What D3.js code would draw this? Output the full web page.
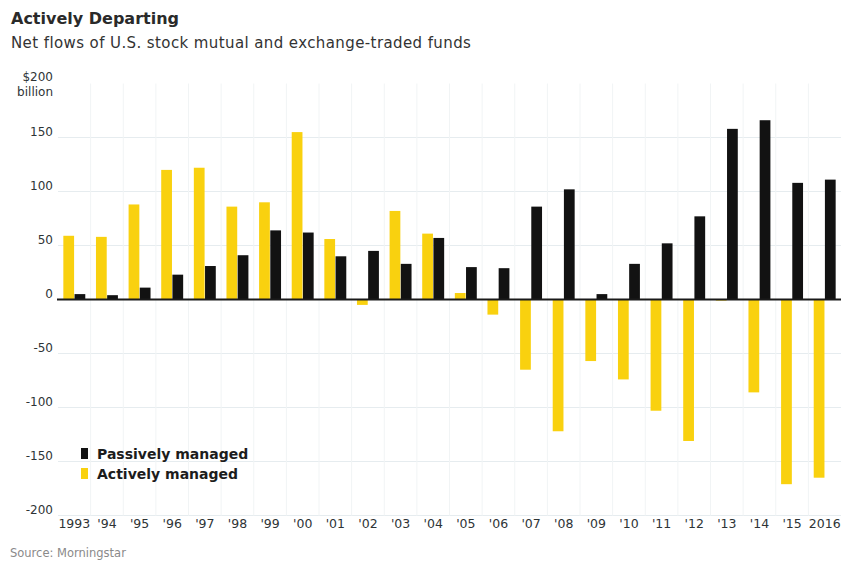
<!DOCTYPE html>
<html>
<head>
<meta charset="utf-8">
<script src="https://cdn.jsdelivr.net/npm/d3@7"></script>
<style>
  body { margin: 0; background: #fff; }
  svg { font-family: "DejaVu Sans", sans-serif; }
</style>
</head>
<body>
<div id="chart"></div>
<script>
// data ($ billion)
const years = d3.range(1993, 2017);
const yearLabels = ["1993", "'94", "'95", "'96", "'97", "'98", "'99", "'00", "'01", "'02", "'03", "'04",
  "'05", "'06", "'07", "'08", "'09", "'10", "'11", "'12", "'13", "'14", "'15", "2016"];
const active = [59, 58, 88, 120, 122, 86, 90, 155, 56, -5, 82, 61,
  6, -14, -65, -122, -57, -74, -103, -131, -1, -86, -171, -165];
const passive = [5, 4, 11, 23, 31, 41, 64, 62, 40, 45, 33, 57,
  30, 29, 86, 102, 5, 33, 52, 77, 158, 166, 108, 111];
const series = ["active", "passive"];
const yTicks = [-200, -150, -100, -50, 0, 50, 100, 150, 200];

const W = 843, H = 562;
const svg = d3.select("#chart").append("svg")
  .attr("width", W).attr("height", H);

const x = d3.scaleBand().domain(years).range([58, 841])
  .paddingInner(0.3).paddingOuter(0.15);
const xSub = d3.scaleBand().domain(series).range([0, x.bandwidth()]).padding(0.04);
const y = d3.scaleLinear().domain([-200, 200]).range([515.5, 83.5]);

const colors = { active: "#f9d10f", passive: "#121212" };

// gridlines
svg.append("g").selectAll("line").data(yTicks.filter(d => d !== 0 && d !== 200))
  .enter().append("line")
  .attr("x1", 58).attr("x2", 841)
  .attr("y1", d => y(d)).attr("y2", d => y(d))
  .style("stroke", "#e6ecef").style("stroke-width", 1);

svg.append("g").selectAll("line").data(years.slice(1))
  .enter().append("line")
  .attr("x1", d => x(d) - x.step() * x.paddingInner() / 2)
  .attr("x2", d => x(d) - x.step() * x.paddingInner() / 2)
  .attr("y1", y(200)).attr("y2", y(-200))
  .style("stroke", "#f1f4f5").style("stroke-width", 1);

// bars
const rows = years.map((yr, i) => ({ year: yr, active: active[i], passive: passive[i] }));
const groups = svg.append("g").selectAll("g").data(rows).enter().append("g")
  .attr("transform", d => `translate(${x(d.year)},0)`);

groups.selectAll("rect")
  .data(d => series.map(k => ({ key: k, value: d[k] })))
  .enter().append("rect")
  .attr("x", d => xSub(d.key))
  .attr("width", xSub.bandwidth())
  .attr("y", d => y(Math.max(0, d.value)))
  .attr("height", d => Math.abs(y(d.value) - y(0)))
  .style("fill", d => colors[d.key]);

// zero line
svg.append("line")
  .attr("x1", 57).attr("x2", 841)
  .attr("y1", y(0)).attr("y2", y(0))
  .style("stroke", "#1a1a1a").style("stroke-width", 2);

// y axis (plain hyphen for negatives, as in the original)
const yAxis = svg.append("g")
  .attr("transform", "translate(53,0)")
  .call(d3.axisLeft(y).tickValues(yTicks.filter(d => d !== 200))
    .tickFormat(d => String(d)).tickSize(0).tickPadding(0));
yAxis.select(".domain").remove();
yAxis.selectAll("text")
  .attr("dy", "-0.2em")
  .style("font-size", "12px").style("fill", "#2e3436")
  .style("font-family", "'DejaVu Sans', sans-serif");

svg.append("text").attr("x", 53).attr("y", 81).attr("text-anchor", "end")
  .style("font-size", "12px").style("fill", "#2e3436").text("$200");
svg.append("text").attr("x", 53).attr("y", 96).attr("text-anchor", "end")
  .style("font-size", "12px").style("fill", "#2e3436").text("billion");

// x axis
const xAxis = svg.append("g")
  .attr("transform", `translate(0,${y(-200)})`)
  .call(d3.axisBottom(x).tickSize(0).tickPadding(4).tickFormat((d, i) => yearLabels[i]));
xAxis.select(".domain").remove();
xAxis.selectAll("text")
  .style("font-size", "12.5px").style("fill", "#2e3436")
  .style("font-family", "'DejaVu Sans', sans-serif");

// legend
const legendItems = [
  { key: "passive", label: "Passively managed" },
  { key: "active", label: "Actively managed" }
];
const legend = svg.selectAll(".legend").data(legendItems).enter().append("g")
  .attr("class", "legend")
  .attr("transform", (d, i) => `translate(81, ${448 + i * 20})`);
legend.append("rect").attr("width", 7).attr("height", 11)
  .style("fill", d => colors[d.key]);
legend.append("text").attr("x", 16).attr("y", 11)
  .style("font-size", "14px").style("font-weight", "bold").style("fill", "#1c1c1c")
  .text(d => d.label);

// titles
svg.append("text").attr("x", 11).attr("y", 24)
  .style("font-size", "16px").style("font-weight", "bold").style("fill", "#2a2a2a")
  .text("Actively Departing");
svg.append("text").attr("x", 11).attr("y", 48)
  .style("font-size", "15px").style("letter-spacing", "0.4px").style("fill", "#333")
  .text("Net flows of U.S. stock mutual and exchange-traded funds");

svg.append("text").attr("x", 10).attr("y", 557)
  .style("font-size", "11.5px").style("fill", "#8a8a8a")
  .text("Source: Morningstar");
</script>
</body>
</html>
